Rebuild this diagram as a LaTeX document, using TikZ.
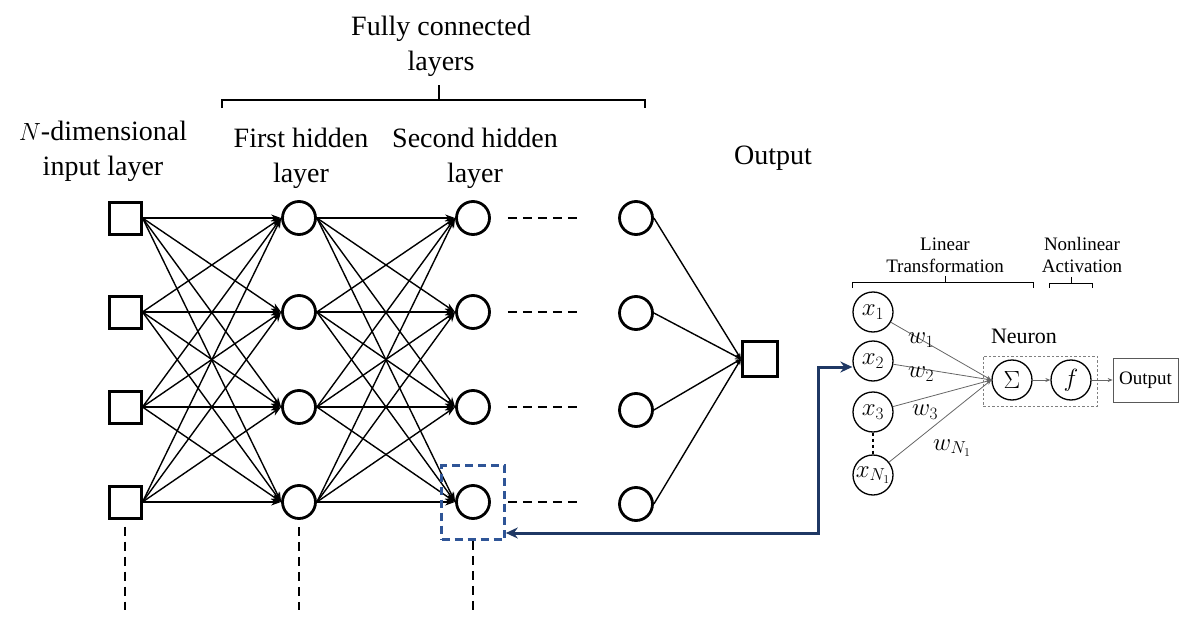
\documentclass[tikz,border=0pt]{standalone}
\usepackage{fontspec}
\setmainfont{Liberation Serif}
\usetikzlibrary{arrows.meta}
\definecolor{navy}{HTML}{1F3864}
\definecolor{boxblue}{HTML}{2F5597}
\begin{document}
\begin{tikzpicture}[x=1pt,y=-1pt,
  sq/.style={draw, line width=3pt, minimum size=32pt, inner sep=0pt},
  neu/.style={circle, draw, line width=2.8pt, minimum size=33pt, inner sep=0pt},
  edge/.style={line width=1.4pt, -{Stealth[length=10pt,width=7pt]}},
  oedge/.style={line width=1.4pt, -{Stealth[length=6pt,width=5pt]}},
  dsh/.style={line width=1.6pt, dash pattern=on 9pt off 6pt},
  big/.style={font=\fontsize{28}{35}\selectfont, align=center},
  small/.style={font=\fontsize{19}{22}\selectfont, align=center},
  xn/.style={circle, draw, line width=1.3pt, minimum size=40pt, inner sep=0pt, font=\fontsize{25}{28}\selectfont},
  wl/.style={font=\fontsize{23}{26}\selectfont, inner sep=0pt},
  gl/.style={draw=gray!80!black, line width=0.8pt},
]
\useasboundingbox (0,0) rectangle (1184,618);

% labels
\node[big] (tfc) at (441,46) {Fully connected\\layers};
\node[big] (tin) at (103,151) {$N$-dimensional\\input layer};
\node[big] (th1) at (301,158) {First hidden\\layer};
\node[big] (th2) at (475,158) {Second hidden\\layer};
\node[big] (tout) at (773,158) {Output};

% brace
\draw[line width=1.3pt] (222,108) -- (222,100) -- (645,100) -- (645,108);
\draw[line width=1.3pt] (439,100) -- (439,85);

% layers
\foreach \i/\y in {1/218,2/312,3/407,4/502} {
  \node[sq] (in\i) at (125,\y) {};
  \node[neu] (a\i) at (299,\y) {};
  \node[neu] (b\i) at (473,\y) {};
}
\node[neu] (c1) at (636,218) {};
\node[neu] (c2) at (636,313) {};
\node[neu] (c3) at (636,410) {};
\node[neu] (c4) at (636,504) {};
\node[sq, minimum size=35pt] (out) at (760,359) {};

\foreach \i in {1,...,4} {
  \foreach \j in {1,...,4} {
    \draw[edge] (in\i.east) -- (a\j.west);
    \draw[edge] (a\i.east) -- (b\j.west);
  }
  \draw[oedge] (c\i.east) -- (out.west);
  \draw[dsh] (b\i.east) ++(17,0) coordinate (d\i) -- ++(74,0);
}

% vertical dashes
\coordinate (v1) at (125,610);
\coordinate (v2) at (299,610);
\coordinate (v3) at (473,610);
\draw[dsh] ([yshift=-7pt]in4.south) -- (v1);
\draw[dsh] ([yshift=-7pt]a4.south) -- (v2);

% highlighted neuron box
\node[draw=boxblue, line width=2.6pt, dash pattern=on 8pt off 5pt, minimum width=63pt, minimum height=74pt] (hl) at (473,502.5) {};
\draw[dsh] (hl.south) -- (v3);

% right panel
\node[small] (tlin) at (945,255) {Linear\\Transformation};
\node[small] (tnon) at (1082,255) {Nonlinear\\Activation};
\draw[line width=0.9pt] (852,288) -- (852,282) -- (1033,282) -- (1033,288);
\draw[line width=0.9pt] (945,282) -- (945,276);
\draw[line width=0.9pt] (1049,288) -- (1049,283) -- (1092,283) -- (1092,288);
\draw[line width=0.9pt] (1071,283) -- (1071,277);

\node[xn] (x1) at (873,312) {$x_1$};
\node[xn] (x2) at (873,361) {$x_2$};
\node[xn] (x3) at (873,412) {$x_3$};
\node[xn] (xN) at (873,475) {$x_{N_1}$};
\draw[line width=1.1pt, dashed] (x3) -- (xN);

\node[xn] (sum) at (1012,380) {$\Sigma$};
\node[xn] (f) at (1071,380) {$f$};
\node[draw=gray!70!black, line width=0.7pt, minimum width=65pt, minimum height=44pt, font=\fontsize{19}{22}\selectfont] (o2) at (1145.5,380) {Output};
\node[draw=gray, line width=0.8pt, dash pattern=on 2.5pt off 2pt, minimum width=114pt, minimum height=50pt] (nbox) at (1040,381) {};
\node[font=\fontsize{22}{26}\selectfont] (tneu) at (1024,336) {Neuron};

\foreach \k in {x1,x2,x3,xN} \draw[gl, -{Stealth[length=5pt,width=4pt]}] (\k) -- (sum.west);
\draw[gl, -{Stealth[length=5pt,width=4pt]}] (sum) -- (f);
\draw[gl, -{Stealth[length=5pt,width=4pt]}] (f) -- (o2);

\node[wl] (w1) at (921,340) {$w_1$};
\node[wl] (w2) at (921,374) {$w_2$};
\node[wl] (w3) at (925,412) {$w_3$};
\node[wl] (wN) at (952,448) {$w_{N_1}$};

% blue connector
\coordinate (bc) at (818,533);
\draw[navy, line width=3pt, {Stealth[length=12pt,width=11pt]}-{Stealth[length=12pt,width=11pt]}]
  ([yshift=-30.5pt]hl.east) -- (bc) |- ([yshift=-6pt]x2.west);
\end{tikzpicture}
\end{document}
